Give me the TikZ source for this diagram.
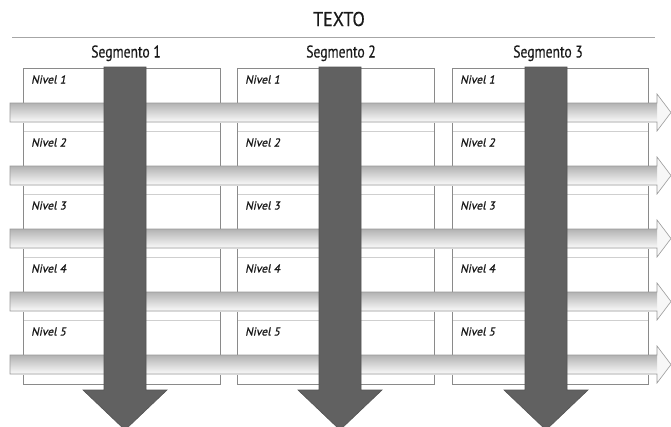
\documentclass[tikz,border=0pt]{standalone}
\usepackage{fontspec}
\usepackage{graphicx}
\setmainfont{PT Sans}
\newfontfamily\medfont[FakeBold=0.4]{PT Sans}
\newfontfamily\medital[FakeBold=0.8,FakeSlant=0.2]{PT Sans}
\definecolor{boxline}{HTML}{8A8A8A}
\definecolor{sepline}{HTML}{CFCFCF}
\definecolor{darkarrow}{HTML}{616161}
\definecolor{darkedge}{HTML}{535353}
\definecolor{harrowedge}{HTML}{9A9A9A}
\newcommand{\narrow}[2]{\scalebox{#1}[1]{#2}}
\tikzset{
  titletext/.style={font=\medfont\fontsize{20}{22}\selectfont, text=black!90, inner sep=0pt, anchor=base},
  segtext/.style={font=\medfont\fontsize{17}{19}\selectfont, text=black!90, inner sep=0pt, anchor=base},
  niveltext/.style={font=\medital\fontsize{11.5}{12}\selectfont, text=black!90, inner sep=0pt, anchor=base west},
  colbox/.style={draw=boxline, line width=0.6pt},
  rowsep/.style={draw=sepline, line width=0.6pt},
  hshaft/.style={top color=gray!60, bottom color=gray!4},
  hedge/.style={draw=harrowedge, line width=0.6pt},
  vdark/.style={fill=darkarrow, draw=darkedge, line width=0.6pt}
}
\begin{document}
\begin{tikzpicture}[x=1pt,y=-1pt]
\useasboundingbox (0,0) rectangle (671,426);
\fill[white] (0,0) rectangle (671,426);
\begin{scope}
\clip (0,0) rectangle (671,426);
% title
\node[titletext] (title) at (339,26) {\narrow{0.9}{TEXTO}};
\draw[draw=gray!70, line width=0.6pt] (12,37) -- (655,37);
% segment labels
\node[segtext] (seg1) at (126,57.5) {\narrow{0.8}{Segmento 1}};
\node[segtext] (seg2) at (341,57.5) {\narrow{0.8}{Segmento 2}};
\node[segtext] (seg3) at (548,57.5) {\narrow{0.8}{Segmento 3}};
% column boxes and rows
\foreach \xl/\xr in {23/220, 237/434, 452/648}{
  \foreach \r in {131,194,257,320}{
    \draw[rowsep] (\xl,\r) -- (\xr,\r);
  }
  \draw[colbox] (\xl,68) rectangle (\xr,384);
}
% nivel labels
\foreach \xl [count=\c] in {31,245,460}{
  \foreach \i in {1,...,5}{
    \node[niveltext] (n\c\i) at (\xl,{68+63*(\i-1)+15.5}) {Nivel \i};
  }
}
% horizontal arrows
\foreach \i in {1,...,5}{
  \pgfmathsetmacro{\t}{68+63*(\i-1)+35}
  \pgfmathsetmacro{\b}{\t+19}
  \pgfmathsetmacro{\m}{\t+9.5}
  \fill[gray!6] (657,{\m-18.5}) -- (671,\m) -- (657,{\m+18.5}) -- cycle;
  \shade[hshaft] (10,\t) rectangle (657,\b);
  \draw[hedge] (10,\t) -- (657,\t) -- (657,{\m-18.5}) -- (671,\m) -- (657,{\m+18.5}) -- (657,\b) -- (10,\b) -- cycle;
}
% vertical arrows
\foreach \cx in {125,340,546}{
  \draw[vdark] ({\cx-21},67) -- ({\cx+21},67) -- ({\cx+21},390) -- ({\cx+42},390) -- (\cx,430) -- ({\cx-42},390) -- ({\cx-21},390) -- cycle;
}
\end{scope}
\end{tikzpicture}
\end{document}
